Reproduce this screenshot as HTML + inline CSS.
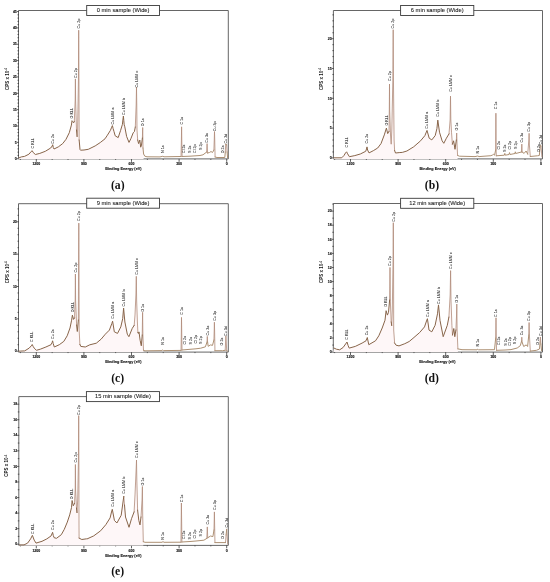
<!DOCTYPE html>
<html><head><meta charset="utf-8"><style>
html,body{margin:0;padding:0;background:#fff;}
svg{display:block;will-change:transform;}
</style></head><body>
<svg width="550" height="582" viewBox="0 0 550 582" font-family='"Liberation Sans", sans-serif'>
<rect width="550" height="582" fill="#fff"/>
<path d="M18.5,10.5H228.3V158.9H18.5Z" fill="none" stroke="#555" stroke-width="0.9"/>
<text x="16.8" y="159.9" font-size="3.5" font-weight="bold" text-anchor="end" fill="#111" stroke="#111" stroke-width="0.12">0</text>
<text x="16.8" y="143.55" font-size="3.5" font-weight="bold" text-anchor="end" fill="#111" stroke="#111" stroke-width="0.12">5</text>
<text x="16.8" y="127.2" font-size="3.5" font-weight="bold" text-anchor="end" fill="#111" stroke="#111" stroke-width="0.12">10</text>
<text x="16.8" y="110.85" font-size="3.5" font-weight="bold" text-anchor="end" fill="#111" stroke="#111" stroke-width="0.12">15</text>
<text x="16.8" y="94.5" font-size="3.5" font-weight="bold" text-anchor="end" fill="#111" stroke="#111" stroke-width="0.12">20</text>
<text x="16.8" y="78.15" font-size="3.5" font-weight="bold" text-anchor="end" fill="#111" stroke="#111" stroke-width="0.12">25</text>
<text x="16.8" y="61.8" font-size="3.5" font-weight="bold" text-anchor="end" fill="#111" stroke="#111" stroke-width="0.12">30</text>
<text x="16.8" y="45.45" font-size="3.5" font-weight="bold" text-anchor="end" fill="#111" stroke="#111" stroke-width="0.12">35</text>
<text x="16.8" y="29.1" font-size="3.5" font-weight="bold" text-anchor="end" fill="#111" stroke="#111" stroke-width="0.12">40</text>
<text x="16.8" y="12.75" font-size="3.5" font-weight="bold" text-anchor="end" fill="#111" stroke="#111" stroke-width="0.12">45</text>
<text x="36.3" y="165.2" font-size="3.5" font-weight="bold" text-anchor="middle" fill="#111" stroke="#111" stroke-width="0.12">1200</text>
<text x="83.9" y="165.2" font-size="3.5" font-weight="bold" text-anchor="middle" fill="#111" stroke="#111" stroke-width="0.12">900</text>
<text x="131.5" y="165.2" font-size="3.5" font-weight="bold" text-anchor="middle" fill="#111" stroke="#111" stroke-width="0.12">600</text>
<text x="179.1" y="165.2" font-size="3.5" font-weight="bold" text-anchor="middle" fill="#111" stroke="#111" stroke-width="0.12">300</text>
<text x="226.7" y="165.2" font-size="3.5" font-weight="bold" text-anchor="middle" fill="#111" stroke="#111" stroke-width="0.12">0</text>
<path d="M18.9,158.7h-2.1M18.9,142.35h-2.1M18.9,126h-2.1M18.9,109.65h-2.1M18.9,93.3h-2.1M18.9,76.95h-2.1M18.9,60.6h-2.1M18.9,44.25h-2.1M18.9,27.9h-2.1M18.9,11.55h-2.1M19,155.43h-1.5M19,152.16h-1.5M19,148.89h-1.5M19,145.62h-1.5M19,139.08h-1.5M19,135.81h-1.5M19,132.54h-1.5M19,129.27h-1.5M19,122.73h-1.5M19,119.46h-1.5M19,116.19h-1.5M19,112.92h-1.5M19,106.38h-1.5M19,103.11h-1.5M19,99.84h-1.5M19,96.57h-1.5M19,90.03h-1.5M19,86.76h-1.5M19,83.49h-1.5M19,80.22h-1.5M19,73.68h-1.5M19,70.41h-1.5M19,67.14h-1.5M19,63.87h-1.5M19,57.33h-1.5M19,54.06h-1.5M19,50.79h-1.5M19,47.52h-1.5M19,40.98h-1.5M19,37.71h-1.5M19,34.44h-1.5M19,31.17h-1.5M19,24.63h-1.5M19,21.36h-1.5M19,18.09h-1.5M19,14.82h-1.5M36.3,158.9v2.9M83.9,158.9v2.9M131.5,158.9v2.9M179.1,158.9v2.9M226.7,158.9v2.9M20.43,158.9v1.0M52.17,158.9v1.0M68.03,158.9v1.0M99.77,158.9v1.0M115.63,158.9v1.0M147.37,158.9v1.0M163.23,158.9v1.0M194.97,158.9v1.0M210.83,158.9v1.0" stroke="#3a3a3a" stroke-width="0.8" fill="none"/>
<text transform="translate(8.8,79) rotate(-90)" font-size="4.5" font-weight="bold" text-anchor="middle" fill="#111">CPS x 10<tspan font-size="3.0" dy="-1.8">-4</tspan></text>
<text x="123.4" y="170" font-size="3.8" font-weight="bold" text-anchor="middle" fill="#111" stroke="#111" stroke-width="0.1">Binding Energy (eV)</text>
<polygon points="18.5,158.9 19,157.9 21.3,156.9 24.5,156.4 28.9,154.2 31.2,151.5 32.2,150.7 33.2,152.5 35.4,154.5 39.8,153.4 45.3,151.3 50.7,148 52.2,146 52.7,144.7 53.3,147.5 54,149 58.3,146.9 62.7,143.6 66,139.3 69.3,132.7 71.4,125.1 72,120.7 72.7,121.5 73.6,122.9 74.3,121.5 75.2,100 75.4,78.9 75.6,100 76.5,130 77.1,136.5 77.6,130 78.45,80 78.7,30.2 78.95,80 79.15,140 80,149.5 80.5,150.2 84,150 88.3,149.3 95.2,145.9 100.3,142.5 105,138.8 107.4,135.2 110.4,130.4 111.7,127.2 112.4,125.6 113.1,128.5 114,131.6 115.2,135.8 118.2,137.6 120.6,130.4 122.4,124.4 123,119 123.4,116 123.8,120.5 124.2,124.8 124.8,126.8 126.6,136.4 129,142.4 130.8,138.8 133.2,132.8 134.4,131.6 135.3,127 136.17,105 136.5,87.2 136.78,105 137,130 137.7,140 138.6,143.6 139.8,140 140.7,147.2 141.5,145 142.4,138 142.7,127.5 143,148 143.6,154 143.6,158.9" fill="#fef7f8" stroke="none"/>
<path d="M74.3,121.5 75.2,100 75.4,78.9 75.6,100 76.5,130M77.1,136.5 77.6,130 78.45,80 78.7,30.2 78.95,80 79.15,140M135.3,127 136.17,105 136.5,87.2 136.78,105 137,130 137.7,140M142.4,138 142.7,127.5 143,148M181.05,156.5 181.4,140 181.6,126.8 181.85,145 182.1,156.5M206.7,152 206.95,146 207.1,143.6 207.3,148 207.55,153M213.9,150 214.26,140 214.5,131.5 214.74,140 215.1,157M225.3,152 225.7,144.5M226.6,144.8 227.1,152" fill="none" stroke="#b08a78" stroke-width="0.8" stroke-linejoin="round" stroke-linecap="round"/>
<path d="M19,157.9 21.3,156.9 24.5,156.4 28.9,154.2 31.2,151.5 32.2,150.7 33.2,152.5 35.4,154.5 39.8,153.4 45.3,151.3 50.7,148 52.2,146 52.7,144.7 53.3,147.5 54,149 58.3,146.9 62.7,143.6 66,139.3 69.3,132.7 71.4,125.1 72,120.7 72.7,121.5 73.6,122.9 74.3,121.5M76.5,130 77.1,136.5M79.15,140 80,149.5 80.5,150.2 84,150 88.3,149.3 95.2,145.9 100.3,142.5 105,138.8 107.4,135.2 110.4,130.4 111.7,127.2 112.4,125.6 113.1,128.5 114,131.6 115.2,135.8 118.2,137.6 120.6,130.4 122.4,124.4 123,119 123.4,116 123.8,120.5 124.2,124.8 124.8,126.8 126.6,136.4 129,142.4 130.8,138.8 133.2,132.8 134.4,131.6 135.3,127M137.7,140 138.6,143.6 139.8,140 140.7,147.2 141.5,145 142.4,138" fill="none" stroke="#88654a" stroke-width="1.0" stroke-linejoin="round" stroke-linecap="round"/>
<path d="M143,148 143.6,154 144.8,156.2 147,156.8 160,156.9 162.8,156.3 164,156.8 181.05,156.5M182.1,156.5 190,156.2 200,155.5 203,154.8 206.7,152M207.55,153 209.5,152.5 211,151.5 212.5,152.5 213.9,150M215.1,157 217,157.5 224.8,157.5 225.3,152M225.7,144.5 226.6,144.8M227.1,152 227.6,157.8" fill="none" stroke="#ad9073" stroke-width="1.0" stroke-linejoin="round" stroke-linecap="round"/>
<text transform="translate(33.6,148.5) rotate(-90)" font-size="3.7" fill="#333" stroke="#333" stroke-width="0.08">C KLL</text>
<text transform="translate(54,143.8) rotate(-90)" font-size="3.7" fill="#333" stroke="#333" stroke-width="0.08">Cu 2s</text>
<text transform="translate(73.1,118.5) rotate(-90)" font-size="3.7" fill="#333" stroke="#333" stroke-width="0.08">O KLL</text>
<text transform="translate(76.7,78) rotate(-90)" font-size="3.7" fill="#333" stroke="#333" stroke-width="0.08">Cu 2p</text>
<text transform="translate(80,28.5) rotate(-90)" font-size="3.7" fill="#333" stroke="#333" stroke-width="0.08">Cu 2p</text>
<text transform="translate(113.6,124.5) rotate(-90)" font-size="3.7" fill="#333" stroke="#333" stroke-width="0.08">Cu LMM a</text>
<text transform="translate(124.8,115) rotate(-90)" font-size="3.7" fill="#333" stroke="#333" stroke-width="0.08">Cu LMM b</text>
<text transform="translate(137.8,87.5) rotate(-90)" font-size="3.7" fill="#333" stroke="#333" stroke-width="0.08">Cu LMM c</text>
<text transform="translate(143.9,126.2) rotate(-90)" font-size="3.7" fill="#333" stroke="#333" stroke-width="0.08">O 1s</text>
<text transform="translate(164,153) rotate(-90)" font-size="3.7" fill="#333" stroke="#333" stroke-width="0.08">N 1s</text>
<text transform="translate(182.8,124.5) rotate(-90)" font-size="3.7" fill="#333" stroke="#333" stroke-width="0.08">C 1s</text>
<text transform="translate(185.2,153) rotate(-90)" font-size="3.7" fill="#333" stroke="#333" stroke-width="0.08">Cl 2s</text>
<text transform="translate(191,153) rotate(-90)" font-size="3.7" fill="#333" stroke="#333" stroke-width="0.08">S 2s</text>
<text transform="translate(196,153) rotate(-90)" font-size="3.7" fill="#333" stroke="#333" stroke-width="0.08">Cl 2p</text>
<text transform="translate(201.5,150) rotate(-90)" font-size="3.7" fill="#333" stroke="#333" stroke-width="0.08">S 2p</text>
<text transform="translate(208.3,142.7) rotate(-90)" font-size="3.7" fill="#333" stroke="#333" stroke-width="0.08">Cu 3s</text>
<text transform="translate(215.8,131.2) rotate(-90)" font-size="3.7" fill="#333" stroke="#333" stroke-width="0.08">Cu 3p</text>
<text transform="translate(223.8,153.3) rotate(-90)" font-size="3.7" fill="#333" stroke="#333" stroke-width="0.08">O 2s</text>
<text transform="translate(227.4,143.6) rotate(-90)" font-size="3.7" fill="#333" stroke="#333" stroke-width="0.08">Cu 3d</text>
<rect x="86.7" y="5.5" width="72.8" height="10" fill="#fff" stroke="#3a3a3a" stroke-width="0.9"/>
<text x="123.1" y="12.1" font-size="5.75" text-anchor="middle" fill="#1a1a1a" stroke="#1a1a1a" stroke-width="0.08">0 min sample (Wide)</text>
<text transform="translate(117.7,188.5) scale(0.9,1)" font-family='"Liberation Serif", serif' font-size="13" font-weight="bold" text-anchor="middle" fill="#111">(a)</text>
<path d="M333.4,10.5H542.5V158.9H333.4Z" fill="none" stroke="#555" stroke-width="0.9"/>
<text x="331.7" y="159.1" font-size="3.5" font-weight="bold" text-anchor="end" fill="#111" stroke="#111" stroke-width="0.12">0</text>
<text x="331.7" y="129.3" font-size="3.5" font-weight="bold" text-anchor="end" fill="#111" stroke="#111" stroke-width="0.12">5</text>
<text x="331.7" y="99.5" font-size="3.5" font-weight="bold" text-anchor="end" fill="#111" stroke="#111" stroke-width="0.12">10</text>
<text x="331.7" y="69.7" font-size="3.5" font-weight="bold" text-anchor="end" fill="#111" stroke="#111" stroke-width="0.12">15</text>
<text x="331.7" y="39.9" font-size="3.5" font-weight="bold" text-anchor="end" fill="#111" stroke="#111" stroke-width="0.12">20</text>
<text x="350.5" y="165.2" font-size="3.5" font-weight="bold" text-anchor="middle" fill="#111" stroke="#111" stroke-width="0.12">1200</text>
<text x="398.1" y="165.2" font-size="3.5" font-weight="bold" text-anchor="middle" fill="#111" stroke="#111" stroke-width="0.12">900</text>
<text x="445.7" y="165.2" font-size="3.5" font-weight="bold" text-anchor="middle" fill="#111" stroke="#111" stroke-width="0.12">600</text>
<text x="493.3" y="165.2" font-size="3.5" font-weight="bold" text-anchor="middle" fill="#111" stroke="#111" stroke-width="0.12">300</text>
<text x="540.9" y="165.2" font-size="3.5" font-weight="bold" text-anchor="middle" fill="#111" stroke="#111" stroke-width="0.12">0</text>
<path d="M333.8,157.9h-2.1M333.8,128.1h-2.1M333.8,98.3h-2.1M333.8,68.5h-2.1M333.8,38.7h-2.1M333.9,151.94h-1.5M333.9,145.98h-1.5M333.9,140.02h-1.5M333.9,134.06h-1.5M333.9,122.14h-1.5M333.9,116.18h-1.5M333.9,110.22h-1.5M333.9,104.26h-1.5M333.9,92.34h-1.5M333.9,86.38h-1.5M333.9,80.42h-1.5M333.9,74.46h-1.5M333.9,62.54h-1.5M333.9,56.58h-1.5M333.9,50.62h-1.5M333.9,44.66h-1.5M333.9,32.74h-1.5M333.9,26.78h-1.5M333.9,20.82h-1.5M333.9,14.86h-1.5M350.5,158.9v2.9M398.1,158.9v2.9M445.7,158.9v2.9M493.3,158.9v2.9M540.9,158.9v2.9M334.63,158.9v1.0M366.37,158.9v1.0M382.23,158.9v1.0M413.97,158.9v1.0M429.83,158.9v1.0M461.57,158.9v1.0M477.43,158.9v1.0M509.17,158.9v1.0M525.03,158.9v1.0" stroke="#3a3a3a" stroke-width="0.8" fill="none"/>
<text transform="translate(322.8,79) rotate(-90)" font-size="4.5" font-weight="bold" text-anchor="middle" fill="#111">CPS x 10<tspan font-size="3.0" dy="-1.8">-4</tspan></text>
<text x="437.7" y="170" font-size="3.8" font-weight="bold" text-anchor="middle" fill="#111" stroke="#111" stroke-width="0.1">Binding Energy (eV)</text>
<polygon points="333.4,158.9 334.1,157.8 341.7,157.8 343.9,155.6 345.6,152.8 346.6,151.8 347.6,153.8 349.4,156.7 354.8,155.6 360.3,154 365.7,151.3 366.5,149 367,146.9 367.6,150 369,152.9 373.3,150.7 377.7,148 381,143.6 384.3,134.9 386.4,128.1 387.7,133.6 389.05,131.3 389.3,110 389.5,84 389.7,110 390.5,135 391.2,144.2 391.8,130 392.85,80 393.2,29.7 393.45,80 394.1,140 394.6,150.5 395.5,153 399.2,152.6 402.3,152.4 406.9,151 413.7,146.8 420.6,140.8 424.9,135.6 427,130.4 429.2,138.2 431.8,139.9 435.2,135.6 436.9,128.7 437.8,120.1 439.5,132.2 442.1,140.8 443.8,143.3 446.4,138.2 449,133.9 450.12,120 450.5,96.1 450.83,120 451.5,132.2 452.4,144.2 453.6,140.8 455,149.3 456.35,140 456.7,133 457.05,145 457.6,155.4 457.6,158.9" fill="#fef7f8" stroke="none"/>
<path d="M389.05,131.3 389.3,110 389.5,84 389.7,110 390.5,135 391.2,144.2 391.8,130 392.85,80 393.2,29.7 393.45,80 394.1,140 394.6,150.5M449,133.9 450.12,120 450.5,96.1 450.83,120 451.5,132.2 452.4,144.2M456.35,140 456.7,133 457.05,145 457.6,155.4M495.67,150 495.81,125 495.9,113.2 495.99,125 496.12,150 496.31,155.8M521.44,152 521.8,144.1 522.16,152M527.7,154.1 528.86,140 529.1,133.3 529.4,145 530.3,156.5M541,145.8 541.5,152 541.9,157" fill="none" stroke="#b08a78" stroke-width="0.8" stroke-linejoin="round" stroke-linecap="round"/>
<path d="M334.1,157.8 341.7,157.8 343.9,155.6 345.6,152.8 346.6,151.8 347.6,153.8 349.4,156.7 354.8,155.6 360.3,154 365.7,151.3 366.5,149 367,146.9 367.6,150 369,152.9 373.3,150.7 377.7,148 381,143.6 384.3,134.9 386.4,128.1 387.7,133.6 389.05,131.3M394.6,150.5 395.5,153 399.2,152.6 402.3,152.4 406.9,151 413.7,146.8 420.6,140.8 424.9,135.6 427,130.4 429.2,138.2 431.8,139.9 435.2,135.6 436.9,128.7 437.8,120.1 439.5,132.2 442.1,140.8 443.8,143.3 446.4,138.2 449,133.9M452.4,144.2 453.6,140.8 455,149.3 456.35,140" fill="none" stroke="#88654a" stroke-width="1.0" stroke-linejoin="round" stroke-linecap="round"/>
<path d="M457.6,155.4 459.3,156.2 475,156.6 477.8,156 479,156.6 490.9,155.7 492.5,155 493.5,154.2 494.5,155.3 495.67,150M496.31,155.8 504.3,155.2 504.8,153.4 505.3,155.2 509,154.5 509.5,152.6 510,154.5 515,153.5 515.3,151.8 515.7,153.5 521.44,152M522.16,152 524.1,153.4 526.1,151 527.7,154.1M530.3,156.5 537.3,155.8 539.3,155.5 539.9,150 540.3,145.3 541,145.8" fill="none" stroke="#ad9073" stroke-width="1.0" stroke-linejoin="round" stroke-linecap="round"/>
<text transform="translate(347.8,147.5) rotate(-90)" font-size="3.7" fill="#333" stroke="#333" stroke-width="0.08">C KLL</text>
<text transform="translate(368.2,143.5) rotate(-90)" font-size="3.7" fill="#333" stroke="#333" stroke-width="0.08">Cu 2s</text>
<text transform="translate(387.7,125.6) rotate(-90)" font-size="3.7" fill="#333" stroke="#333" stroke-width="0.08">O KLL</text>
<text transform="translate(390.8,81) rotate(-90)" font-size="3.7" fill="#333" stroke="#333" stroke-width="0.08">Cu 2p</text>
<text transform="translate(394.4,28.5) rotate(-90)" font-size="3.7" fill="#333" stroke="#333" stroke-width="0.08">Cu 2p</text>
<text transform="translate(428.2,128.7) rotate(-90)" font-size="3.7" fill="#333" stroke="#333" stroke-width="0.08">Cu LMM a</text>
<text transform="translate(439,116.7) rotate(-90)" font-size="3.7" fill="#333" stroke="#333" stroke-width="0.08">Cu LMM b</text>
<text transform="translate(451.7,91.8) rotate(-90)" font-size="3.7" fill="#333" stroke="#333" stroke-width="0.08">Cu LMM c</text>
<text transform="translate(457.9,130.4) rotate(-90)" font-size="3.7" fill="#333" stroke="#333" stroke-width="0.08">O 1s</text>
<text transform="translate(479,153.4) rotate(-90)" font-size="3.7" fill="#333" stroke="#333" stroke-width="0.08">N 1s</text>
<text transform="translate(497.1,109.3) rotate(-90)" font-size="3.7" fill="#333" stroke="#333" stroke-width="0.08">C 1s</text>
<text transform="translate(499.8,149.5) rotate(-90)" font-size="3.7" fill="#333" stroke="#333" stroke-width="0.08">Cl 2s</text>
<text transform="translate(506.3,152) rotate(-90)" font-size="3.7" fill="#333" stroke="#333" stroke-width="0.08">S 2s</text>
<text transform="translate(510.7,149.5) rotate(-90)" font-size="3.7" fill="#333" stroke="#333" stroke-width="0.08">Cl 2p</text>
<text transform="translate(516.5,149) rotate(-90)" font-size="3.7" fill="#333" stroke="#333" stroke-width="0.08">S 2p</text>
<text transform="translate(523,142.5) rotate(-90)" font-size="3.7" fill="#333" stroke="#333" stroke-width="0.08">Cu 3s</text>
<text transform="translate(530.3,131.7) rotate(-90)" font-size="3.7" fill="#333" stroke="#333" stroke-width="0.08">Cu 3p</text>
<text transform="translate(540,152) rotate(-90)" font-size="3.7" fill="#333" stroke="#333" stroke-width="0.08">O 2s</text>
<text transform="translate(541.8,144.5) rotate(-90)" font-size="3.7" fill="#333" stroke="#333" stroke-width="0.08">Cu 3d</text>
<rect x="400.6" y="5.5" width="73.2" height="10" fill="#fff" stroke="#3a3a3a" stroke-width="0.9"/>
<text x="437.2" y="12.1" font-size="5.75" text-anchor="middle" fill="#1a1a1a" stroke="#1a1a1a" stroke-width="0.08">6 min sample (Wide)</text>
<text transform="translate(432,188.5) scale(0.9,1)" font-family='"Liberation Serif", serif' font-size="13" font-weight="bold" text-anchor="middle" fill="#111">(b)</text>
<path d="M18.5,203.7H228.3V352.1H18.5Z" fill="none" stroke="#555" stroke-width="0.9"/>
<text x="16.8" y="352.4" font-size="3.5" font-weight="bold" text-anchor="end" fill="#111" stroke="#111" stroke-width="0.12">0</text>
<text x="16.8" y="320.05" font-size="3.5" font-weight="bold" text-anchor="end" fill="#111" stroke="#111" stroke-width="0.12">5</text>
<text x="16.8" y="287.7" font-size="3.5" font-weight="bold" text-anchor="end" fill="#111" stroke="#111" stroke-width="0.12">10</text>
<text x="16.8" y="255.35" font-size="3.5" font-weight="bold" text-anchor="end" fill="#111" stroke="#111" stroke-width="0.12">15</text>
<text x="16.8" y="223" font-size="3.5" font-weight="bold" text-anchor="end" fill="#111" stroke="#111" stroke-width="0.12">20</text>
<text x="36.3" y="358.4" font-size="3.5" font-weight="bold" text-anchor="middle" fill="#111" stroke="#111" stroke-width="0.12">1200</text>
<text x="83.9" y="358.4" font-size="3.5" font-weight="bold" text-anchor="middle" fill="#111" stroke="#111" stroke-width="0.12">900</text>
<text x="131.5" y="358.4" font-size="3.5" font-weight="bold" text-anchor="middle" fill="#111" stroke="#111" stroke-width="0.12">600</text>
<text x="179.1" y="358.4" font-size="3.5" font-weight="bold" text-anchor="middle" fill="#111" stroke="#111" stroke-width="0.12">300</text>
<text x="226.7" y="358.4" font-size="3.5" font-weight="bold" text-anchor="middle" fill="#111" stroke="#111" stroke-width="0.12">0</text>
<path d="M18.9,351.2h-2.1M18.9,318.85h-2.1M18.9,286.5h-2.1M18.9,254.15h-2.1M18.9,221.8h-2.1M19,344.73h-1.5M19,338.26h-1.5M19,331.79h-1.5M19,325.32h-1.5M19,312.38h-1.5M19,305.91h-1.5M19,299.44h-1.5M19,292.97h-1.5M19,280.03h-1.5M19,273.56h-1.5M19,267.09h-1.5M19,260.62h-1.5M19,247.68h-1.5M19,241.21h-1.5M19,234.74h-1.5M19,228.27h-1.5M19,215.33h-1.5M19,208.86h-1.5M36.3,352.1v2.9M83.9,352.1v2.9M131.5,352.1v2.9M179.1,352.1v2.9M226.7,352.1v2.9M20.43,352.1v1.0M52.17,352.1v1.0M68.03,352.1v1.0M99.77,352.1v1.0M115.63,352.1v1.0M147.37,352.1v1.0M163.23,352.1v1.0M194.97,352.1v1.0M210.83,352.1v1.0" stroke="#3a3a3a" stroke-width="0.8" fill="none"/>
<text transform="translate(8.5,272.3) rotate(-90)" font-size="4.5" font-weight="bold" text-anchor="middle" fill="#111">CPS x 10<tspan font-size="3.0" dy="-1.8">-4</tspan></text>
<text x="123.4" y="363" font-size="3.8" font-weight="bold" text-anchor="middle" fill="#111" stroke="#111" stroke-width="0.1">Binding Energy (eV)</text>
<polygon points="18.5,352.1 19,351.2 20.2,351.1 24.7,350.9 29.2,348.1 31.3,345.8 32.2,344.5 33.2,346.5 34.2,348.1 36.4,350.3 40.3,349.2 45.9,347 51,344.7 52.1,342.5 52.6,340.8 53.2,343.5 54.3,347 59.3,344.7 63.8,341.4 67.2,335.8 70,328 71.6,320.2 72.4,315.1 73.5,319.4 74.5,318 75.2,300 75.4,274 75.6,300 76.6,325 77.3,331.5 78.35,320 78.55,270 78.8,223.1 79,270 79.15,330 79.9,344.4 80.8,346.4 85.3,347 89.8,344.8 96.3,343.2 101.2,339.1 105.3,334.2 109.4,330.1 111.8,323.6 112.6,321.2 113.4,326 114.3,331.8 117.5,333.4 120.8,326.9 122.7,318.7 123.6,308.1 124.3,316 124.9,322 127.3,334.2 128.9,336.7 132.2,328.5 134.2,325.3 135,315 135.91,295 136.3,276.3 136.63,300 137.4,322 137.9,332.5 138.4,333.5 139,331.9 140.1,340.2 141.3,345.8 142.24,335 142.6,312.3 142.9,335 143.5,350.3 143.5,352.1" fill="#fef7f8" stroke="none"/>
<path d="M74.5,318 75.2,300 75.4,274 75.6,300 76.6,325M78.35,320 78.55,270 78.8,223.1 79,270 79.15,330 79.9,344.4M134.2,325.3 135,315 135.91,295 136.3,276.3 136.63,300 137.4,322 137.9,332.5M142.24,335 142.6,312.3 142.9,335 143.5,350.3M181.05,350.4 181.3,335 181.5,317.4 181.75,335 182,350M207.03,342 207.3,336.4 207.58,342M213.92,340 214.22,330 214.4,322.2 214.64,332 214.94,350.7M225.2,350.3 225.6,342 225.9,336 226.3,343 226.7,350.8" fill="none" stroke="#b08a78" stroke-width="0.8" stroke-linejoin="round" stroke-linecap="round"/>
<path d="M19,351.2 20.2,351.1 24.7,350.9 29.2,348.1 31.3,345.8 32.2,344.5 33.2,346.5 34.2,348.1 36.4,350.3 40.3,349.2 45.9,347 51,344.7 52.1,342.5 52.6,340.8 53.2,343.5 54.3,347 59.3,344.7 63.8,341.4 67.2,335.8 70,328 71.6,320.2 72.4,315.1 73.5,319.4 74.5,318M76.6,325 77.3,331.5 78.35,320M79.9,344.4 80.8,346.4 85.3,347 89.8,344.8 96.3,343.2 101.2,339.1 105.3,334.2 109.4,330.1 111.8,323.6 112.6,321.2 113.4,326 114.3,331.8 117.5,333.4 120.8,326.9 122.7,318.7 123.6,308.1 124.3,316 124.9,322 127.3,334.2 128.9,336.7 132.2,328.5 134.2,325.3M137.9,332.5 138.4,333.5 139,331.9 140.1,340.2 141.3,345.8 142.24,335" fill="none" stroke="#88654a" stroke-width="1.0" stroke-linejoin="round" stroke-linecap="round"/>
<path d="M143.5,350.3 145,350.8 162,350.6 162.8,349.9 163.6,350.6 181.05,350.4M182,350 190,349.3 196,348.8 200.7,348.2 205.4,346.8 207.03,342M207.58,342 208.2,346.3 210.6,344.9 212.5,345.4 213.92,340M214.94,350.7 222.4,350.7 225.2,350.3M226.7,350.8 227.6,351.2" fill="none" stroke="#ad9073" stroke-width="1.0" stroke-linejoin="round" stroke-linecap="round"/>
<text transform="translate(33.4,342) rotate(-90)" font-size="3.7" fill="#333" stroke="#333" stroke-width="0.08">C KLL</text>
<text transform="translate(53.8,339) rotate(-90)" font-size="3.7" fill="#333" stroke="#333" stroke-width="0.08">Cu 2s</text>
<text transform="translate(73.5,312.3) rotate(-90)" font-size="3.7" fill="#333" stroke="#333" stroke-width="0.08">O KLL</text>
<text transform="translate(76.6,272.6) rotate(-90)" font-size="3.7" fill="#333" stroke="#333" stroke-width="0.08">Cu 2p</text>
<text transform="translate(80,221) rotate(-90)" font-size="3.7" fill="#333" stroke="#333" stroke-width="0.08">Cu 2p</text>
<text transform="translate(113.8,318.7) rotate(-90)" font-size="3.7" fill="#333" stroke="#333" stroke-width="0.08">Cu LMM a</text>
<text transform="translate(124.8,306.5) rotate(-90)" font-size="3.7" fill="#333" stroke="#333" stroke-width="0.08">Cu LMM b</text>
<text transform="translate(137.5,274.7) rotate(-90)" font-size="3.7" fill="#333" stroke="#333" stroke-width="0.08">Cu LMM c</text>
<text transform="translate(143.8,311.8) rotate(-90)" font-size="3.7" fill="#333" stroke="#333" stroke-width="0.08">O 1s</text>
<text transform="translate(164,344.7) rotate(-90)" font-size="3.7" fill="#333" stroke="#333" stroke-width="0.08">N 1s</text>
<text transform="translate(182.7,314.8) rotate(-90)" font-size="3.7" fill="#333" stroke="#333" stroke-width="0.08">C 1s</text>
<text transform="translate(185.8,344.4) rotate(-90)" font-size="3.7" fill="#333" stroke="#333" stroke-width="0.08">Cl 2s</text>
<text transform="translate(192.4,344.4) rotate(-90)" font-size="3.7" fill="#333" stroke="#333" stroke-width="0.08">S 2s</text>
<text transform="translate(196.7,343.5) rotate(-90)" font-size="3.7" fill="#333" stroke="#333" stroke-width="0.08">Cl 2p</text>
<text transform="translate(201.9,343.9) rotate(-90)" font-size="3.7" fill="#333" stroke="#333" stroke-width="0.08">S 2p</text>
<text transform="translate(208.5,335.4) rotate(-90)" font-size="3.7" fill="#333" stroke="#333" stroke-width="0.08">Cu 3s</text>
<text transform="translate(215.6,320.8) rotate(-90)" font-size="3.7" fill="#333" stroke="#333" stroke-width="0.08">Cu 3p</text>
<text transform="translate(223.2,345.4) rotate(-90)" font-size="3.7" fill="#333" stroke="#333" stroke-width="0.08">O 2s</text>
<text transform="translate(227.2,336) rotate(-90)" font-size="3.7" fill="#333" stroke="#333" stroke-width="0.08">Cu 3d</text>
<rect x="86.7" y="198.2" width="72.8" height="10" fill="#fff" stroke="#3a3a3a" stroke-width="0.9"/>
<text x="123.1" y="204.8" font-size="5.75" text-anchor="middle" fill="#1a1a1a" stroke="#1a1a1a" stroke-width="0.08">9 min sample (Wide)</text>
<text transform="translate(117.7,382.2) scale(0.9,1)" font-family='"Liberation Serif", serif' font-size="13" font-weight="bold" text-anchor="middle" fill="#111">(c)</text>
<path d="M333.3,203.5H542.5V352.1H333.3Z" fill="none" stroke="#555" stroke-width="0.9"/>
<text x="331.6" y="353.3" font-size="3.5" font-weight="bold" text-anchor="end" fill="#111" stroke="#111" stroke-width="0.12">0</text>
<text x="331.6" y="339.2" font-size="3.5" font-weight="bold" text-anchor="end" fill="#111" stroke="#111" stroke-width="0.12">2</text>
<text x="331.6" y="325.1" font-size="3.5" font-weight="bold" text-anchor="end" fill="#111" stroke="#111" stroke-width="0.12">4</text>
<text x="331.6" y="311" font-size="3.5" font-weight="bold" text-anchor="end" fill="#111" stroke="#111" stroke-width="0.12">6</text>
<text x="331.6" y="296.9" font-size="3.5" font-weight="bold" text-anchor="end" fill="#111" stroke="#111" stroke-width="0.12">8</text>
<text x="331.6" y="282.8" font-size="3.5" font-weight="bold" text-anchor="end" fill="#111" stroke="#111" stroke-width="0.12">10</text>
<text x="331.6" y="268.7" font-size="3.5" font-weight="bold" text-anchor="end" fill="#111" stroke="#111" stroke-width="0.12">12</text>
<text x="331.6" y="254.6" font-size="3.5" font-weight="bold" text-anchor="end" fill="#111" stroke="#111" stroke-width="0.12">14</text>
<text x="331.6" y="240.5" font-size="3.5" font-weight="bold" text-anchor="end" fill="#111" stroke="#111" stroke-width="0.12">16</text>
<text x="331.6" y="226.4" font-size="3.5" font-weight="bold" text-anchor="end" fill="#111" stroke="#111" stroke-width="0.12">18</text>
<text x="331.6" y="212.3" font-size="3.5" font-weight="bold" text-anchor="end" fill="#111" stroke="#111" stroke-width="0.12">20</text>
<text x="350.5" y="358.4" font-size="3.5" font-weight="bold" text-anchor="middle" fill="#111" stroke="#111" stroke-width="0.12">1200</text>
<text x="398.1" y="358.4" font-size="3.5" font-weight="bold" text-anchor="middle" fill="#111" stroke="#111" stroke-width="0.12">900</text>
<text x="445.7" y="358.4" font-size="3.5" font-weight="bold" text-anchor="middle" fill="#111" stroke="#111" stroke-width="0.12">600</text>
<text x="493.3" y="358.4" font-size="3.5" font-weight="bold" text-anchor="middle" fill="#111" stroke="#111" stroke-width="0.12">300</text>
<text x="540.9" y="358.4" font-size="3.5" font-weight="bold" text-anchor="middle" fill="#111" stroke="#111" stroke-width="0.12">0</text>
<path d="M333.7,352.1h-2.1M333.7,338h-2.1M333.7,323.9h-2.1M333.7,309.8h-2.1M333.7,295.7h-2.1M333.7,281.6h-2.1M333.7,267.5h-2.1M333.7,253.4h-2.1M333.7,239.3h-2.1M333.7,225.2h-2.1M333.7,211.1h-2.1M333.8,345.05h-1.5M333.8,330.95h-1.5M333.8,316.85h-1.5M333.8,302.75h-1.5M333.8,288.65h-1.5M333.8,274.55h-1.5M333.8,260.45h-1.5M333.8,246.35h-1.5M333.8,232.25h-1.5M333.8,218.15h-1.5M333.8,204.05h-1.5M350.5,352.1v2.9M398.1,352.1v2.9M445.7,352.1v2.9M493.3,352.1v2.9M540.9,352.1v2.9M334.63,352.1v1.0M366.37,352.1v1.0M382.23,352.1v1.0M413.97,352.1v1.0M429.83,352.1v1.0M461.57,352.1v1.0M477.43,352.1v1.0M509.17,352.1v1.0M525.03,352.1v1.0" stroke="#3a3a3a" stroke-width="0.8" fill="none"/>
<text transform="translate(323.3,272.1) rotate(-90)" font-size="4.5" font-weight="bold" text-anchor="middle" fill="#111">CPS x 10<tspan font-size="3.0" dy="-1.8">-4</tspan></text>
<text x="437.5" y="362.9" font-size="3.8" font-weight="bold" text-anchor="middle" fill="#111" stroke="#111" stroke-width="0.1">Binding Energy (eV)</text>
<polygon points="333.3,352.1 334.1,348.1 336.4,349.2 339.7,349.8 343.1,347.5 345.6,344 347,342 348.1,345.5 349.2,348.1 355.3,346.4 362.1,343.1 366,340.8 366.8,338.5 367.3,337.5 368,341 368.8,344.7 375.5,340.8 378.8,335.8 382.2,328 385,320.2 386.1,310.7 387.4,315.1 388.5,312.3 389.65,300 390,267.4 390.3,300 391.2,322 391.7,325.5 392.3,310 393.05,260 393.3,222.7 393.55,260 393.7,330 394.6,343 396.1,345.2 399,345.9 404.8,343.7 409.2,341.5 413,338.3 419.6,332.6 424.5,326.9 426.5,321 427.4,318.7 428.2,324 429,330.1 431.8,331.8 435.1,325.3 437.5,313.8 438.5,304.9 439.3,313 440,320.4 443.2,336.7 447.3,325.3 448.9,317.1 450.16,295 450.6,270.6 450.99,300 451.9,325.3 452.5,335 453.8,328.5 454.8,336.7 455.9,330 456.56,315 456.8,304 457.1,330 457.9,348.9 457.9,352.1" fill="#fef7f8" stroke="none"/>
<path d="M389.65,300 390,267.4 390.3,300 391.2,322M391.7,325.5 392.3,310 393.05,260 393.3,222.7 393.55,260 393.7,330 394.6,343M448.9,317.1 450.16,295 450.6,270.6 450.99,300 451.9,325.3 452.5,335M455.9,330 456.56,315 456.8,304 457.1,330 457.9,348.9M495.69,338 496,317.8 496.27,338 496.54,350.3M521.6,341 521.8,337.2 522.04,342M528.8,335 529.1,322.5 529.4,335 530.3,351.1M540.1,342 540.4,337 540.9,344" fill="none" stroke="#b08a78" stroke-width="0.8" stroke-linejoin="round" stroke-linecap="round"/>
<path d="M334.1,348.1 336.4,349.2 339.7,349.8 343.1,347.5 345.6,344 347,342 348.1,345.5 349.2,348.1 355.3,346.4 362.1,343.1 366,340.8 366.8,338.5 367.3,337.5 368,341 368.8,344.7 375.5,340.8 378.8,335.8 382.2,328 385,320.2 386.1,310.7 387.4,315.1 388.5,312.3 389.65,300M391.2,322 391.7,325.5M394.6,343 396.1,345.2 399,345.9 404.8,343.7 409.2,341.5 413,338.3 419.6,332.6 424.5,326.9 426.5,321 427.4,318.7 428.2,324 429,330.1 431.8,331.8 435.1,325.3 437.5,313.8 438.5,304.9 439.3,313 440,320.4 443.2,336.7 447.3,325.3 448.9,317.1M452.5,335 453.8,328.5 454.8,336.7 455.9,330" fill="none" stroke="#88654a" stroke-width="1.0" stroke-linejoin="round" stroke-linecap="round"/>
<path d="M457.9,348.9 462,349.7 477,349.8 477.8,349.2 478.6,349.8 494.5,349.7 495.69,338M496.54,350.3 505,350 511,349.6 517.2,348 520.3,345.7 521.6,341M522.04,342 523.7,346.5 526.2,344.9 527.6,346.5 528.8,335M530.3,351.1 536.5,350.3 539.5,349 540.1,342M540.9,344 541.6,350.8" fill="none" stroke="#ad9073" stroke-width="1.0" stroke-linejoin="round" stroke-linecap="round"/>
<text transform="translate(348.2,339.7) rotate(-90)" font-size="3.7" fill="#333" stroke="#333" stroke-width="0.08">C KLL</text>
<text transform="translate(368.3,335.3) rotate(-90)" font-size="3.7" fill="#333" stroke="#333" stroke-width="0.08">Cu 2s</text>
<text transform="translate(387,306.8) rotate(-90)" font-size="3.7" fill="#333" stroke="#333" stroke-width="0.08">O KLL</text>
<text transform="translate(391.2,266) rotate(-90)" font-size="3.7" fill="#333" stroke="#333" stroke-width="0.08">Cu 2p</text>
<text transform="translate(394.5,221.7) rotate(-90)" font-size="3.7" fill="#333" stroke="#333" stroke-width="0.08">Cu 2p</text>
<text transform="translate(428.6,317) rotate(-90)" font-size="3.7" fill="#333" stroke="#333" stroke-width="0.08">Cu LMM a</text>
<text transform="translate(439.7,304) rotate(-90)" font-size="3.7" fill="#333" stroke="#333" stroke-width="0.08">Cu LMM b</text>
<text transform="translate(451.8,269) rotate(-90)" font-size="3.7" fill="#333" stroke="#333" stroke-width="0.08">Cu LMM c</text>
<text transform="translate(458,302.7) rotate(-90)" font-size="3.7" fill="#333" stroke="#333" stroke-width="0.08">O 1s</text>
<text transform="translate(479,346.5) rotate(-90)" font-size="3.7" fill="#333" stroke="#333" stroke-width="0.08">N 1s</text>
<text transform="translate(497.2,317) rotate(-90)" font-size="3.7" fill="#333" stroke="#333" stroke-width="0.08">C 1s</text>
<text transform="translate(499.8,345) rotate(-90)" font-size="3.7" fill="#333" stroke="#333" stroke-width="0.08">Cl 2s</text>
<text transform="translate(506.8,345.7) rotate(-90)" font-size="3.7" fill="#333" stroke="#333" stroke-width="0.08">S 2s</text>
<text transform="translate(510.7,345.7) rotate(-90)" font-size="3.7" fill="#333" stroke="#333" stroke-width="0.08">Cl 2p</text>
<text transform="translate(516.4,344.2) rotate(-90)" font-size="3.7" fill="#333" stroke="#333" stroke-width="0.08">S 2p</text>
<text transform="translate(522.8,335.3) rotate(-90)" font-size="3.7" fill="#333" stroke="#333" stroke-width="0.08">Cu 3s</text>
<text transform="translate(530.3,321) rotate(-90)" font-size="3.7" fill="#333" stroke="#333" stroke-width="0.08">Cu 3p</text>
<text transform="translate(538.5,345) rotate(-90)" font-size="3.7" fill="#333" stroke="#333" stroke-width="0.08">O 2s</text>
<text transform="translate(541.7,336) rotate(-90)" font-size="3.7" fill="#333" stroke="#333" stroke-width="0.08">Cu 3d</text>
<rect x="400.6" y="198.3" width="73.2" height="10" fill="#fff" stroke="#3a3a3a" stroke-width="0.9"/>
<text x="437.2" y="204.9" font-size="5.75" text-anchor="middle" fill="#1a1a1a" stroke="#1a1a1a" stroke-width="0.08">12 min sample (Wide)</text>
<text transform="translate(431.8,382) scale(0.9,1)" font-family='"Liberation Serif", serif' font-size="13" font-weight="bold" text-anchor="middle" fill="#111">(d)</text>
<path d="M18.8,396.6H228.3V545.4H18.8Z" fill="none" stroke="#555" stroke-width="0.9"/>
<text x="17.1" y="545.4" font-size="3.5" font-weight="bold" text-anchor="end" fill="#111" stroke="#111" stroke-width="0.12">0</text>
<text x="17.1" y="529.84" font-size="3.5" font-weight="bold" text-anchor="end" fill="#111" stroke="#111" stroke-width="0.12">2</text>
<text x="17.1" y="514.28" font-size="3.5" font-weight="bold" text-anchor="end" fill="#111" stroke="#111" stroke-width="0.12">4</text>
<text x="17.1" y="498.72" font-size="3.5" font-weight="bold" text-anchor="end" fill="#111" stroke="#111" stroke-width="0.12">6</text>
<text x="17.1" y="483.16" font-size="3.5" font-weight="bold" text-anchor="end" fill="#111" stroke="#111" stroke-width="0.12">8</text>
<text x="17.1" y="467.6" font-size="3.5" font-weight="bold" text-anchor="end" fill="#111" stroke="#111" stroke-width="0.12">10</text>
<text x="17.1" y="452.04" font-size="3.5" font-weight="bold" text-anchor="end" fill="#111" stroke="#111" stroke-width="0.12">12</text>
<text x="17.1" y="436.48" font-size="3.5" font-weight="bold" text-anchor="end" fill="#111" stroke="#111" stroke-width="0.12">14</text>
<text x="17.1" y="420.92" font-size="3.5" font-weight="bold" text-anchor="end" fill="#111" stroke="#111" stroke-width="0.12">16</text>
<text x="17.1" y="405.36" font-size="3.5" font-weight="bold" text-anchor="end" fill="#111" stroke="#111" stroke-width="0.12">18</text>
<text x="36.3" y="551.7" font-size="3.5" font-weight="bold" text-anchor="middle" fill="#111" stroke="#111" stroke-width="0.12">1200</text>
<text x="83.9" y="551.7" font-size="3.5" font-weight="bold" text-anchor="middle" fill="#111" stroke="#111" stroke-width="0.12">900</text>
<text x="131.5" y="551.7" font-size="3.5" font-weight="bold" text-anchor="middle" fill="#111" stroke="#111" stroke-width="0.12">600</text>
<text x="179.1" y="551.7" font-size="3.5" font-weight="bold" text-anchor="middle" fill="#111" stroke="#111" stroke-width="0.12">300</text>
<text x="226.7" y="551.7" font-size="3.5" font-weight="bold" text-anchor="middle" fill="#111" stroke="#111" stroke-width="0.12">0</text>
<path d="M19.2,544.2h-2.1M19.2,528.64h-2.1M19.2,513.08h-2.1M19.2,497.52h-2.1M19.2,481.96h-2.1M19.2,466.4h-2.1M19.2,450.84h-2.1M19.2,435.28h-2.1M19.2,419.72h-2.1M19.2,404.16h-2.1M19.3,536.42h-1.5M19.3,520.86h-1.5M19.3,505.3h-1.5M19.3,489.74h-1.5M19.3,474.18h-1.5M19.3,458.62h-1.5M19.3,443.06h-1.5M19.3,427.5h-1.5M19.3,411.94h-1.5M36.3,545.4v2.9M83.9,545.4v2.9M131.5,545.4v2.9M179.1,545.4v2.9M226.7,545.4v2.9M20.43,545.4v1.0M52.17,545.4v1.0M68.03,545.4v1.0M99.77,545.4v1.0M115.63,545.4v1.0M147.37,545.4v1.0M163.23,545.4v1.0M194.97,545.4v1.0M210.83,545.4v1.0" stroke="#3a3a3a" stroke-width="0.8" fill="none"/>
<text transform="translate(8.3,465.7) rotate(-90)" font-size="4.5" font-weight="bold" text-anchor="middle" fill="#111">CPS x 10<tspan font-size="3.0" dy="-1.8">-4</tspan></text>
<text x="123.4" y="556.5" font-size="3.8" font-weight="bold" text-anchor="middle" fill="#111" stroke="#111" stroke-width="0.1">Binding Energy (eV)</text>
<polygon points="18.8,545.4 19.5,544.9 24,544.9 27.6,543.1 30.6,538.9 32.4,535.3 33.4,538 34.2,540.1 36,543.1 42,541.3 46.8,538.9 51.1,535.9 52.6,532.3 53.3,535.5 54.1,537.7 56.5,538.3 61.3,534.7 64.3,529.3 67.3,522.1 69.7,514.9 71.5,507.6 72.1,500.5 73.3,505.8 74.5,503.4 75.2,490 75.4,464.5 75.6,490 76.5,508 77,512.6 77.7,500 78.45,460 78.7,415.6 78.9,460 79,525 79.1,538.1 81.8,539.5 86.6,538.8 86.9,539 93.7,535.9 100.6,530.8 105.8,524.7 110.1,517.9 111.5,512 112.3,509.3 113.2,514 114.4,520.4 116.9,523 121.2,515.3 123,502 123.8,496.4 124.5,505 125.5,517 129,527.3 131.5,518.7 134.1,511.9 135,495 136.12,470 136.5,460 136.83,480 137.6,510.1 138.8,520.4 140,524.9 141,517 142.04,500 142.4,486.5 142.7,515 143.3,541.7 143.3,545.4" fill="#fef7f8" stroke="none"/>
<path d="M74.5,503.4 75.2,490 75.4,464.5 75.6,490 76.5,508M77,512.6 77.7,500 78.45,460 78.7,415.6 78.9,460 79,525 79.1,538.1M123.8,496.4 124.5,505M134.1,511.9 135,495 136.12,470 136.5,460 136.83,480 137.6,510.1M141,517 142.04,500 142.4,486.5 142.7,515 143.3,541.7M180.95,542.2 181.2,522 181.4,503 181.65,522 181.9,542M206.8,538.4 207.1,532 207.3,526.9 207.5,532 207.7,537.8M213.98,530 214.22,520 214.4,511.9 214.64,525 214.94,542.6M225.5,542.6 226.1,535M226.7,529.3 227.2,537 227.7,544" fill="none" stroke="#b08a78" stroke-width="0.8" stroke-linejoin="round" stroke-linecap="round"/>
<path d="M19.5,544.9 24,544.9 27.6,543.1 30.6,538.9 32.4,535.3 33.4,538 34.2,540.1 36,543.1 42,541.3 46.8,538.9 51.1,535.9 52.6,532.3 53.3,535.5 54.1,537.7 56.5,538.3 61.3,534.7 64.3,529.3 67.3,522.1 69.7,514.9 71.5,507.6 72.1,500.5 73.3,505.8 74.5,503.4M76.5,508 77,512.6M79.1,538.1 81.8,539.5 86.6,538.8 86.9,539 93.7,535.9 100.6,530.8 105.8,524.7 110.1,517.9 111.5,512 112.3,509.3 113.2,514 114.4,520.4 116.9,523 121.2,515.3 123,502 123.8,496.4M124.5,505 125.5,517 129,527.3 131.5,518.7 134.1,511.9M137.6,510.1 138.8,520.4 140,524.9 141,517" fill="none" stroke="#88654a" stroke-width="1.0" stroke-linejoin="round" stroke-linecap="round"/>
<path d="M143.3,541.7 145,542.3 162,542.3 163,541.6 164,542.3 180.95,542.2M181.9,542 190,541.5 196,541 203.9,540.2 206.8,538.4M207.7,537.8 210.5,536 212.9,536.6 213.98,530M214.94,542.6 225.5,542.6M226.1,535 226.7,529.3" fill="none" stroke="#ad9073" stroke-width="1.0" stroke-linejoin="round" stroke-linecap="round"/>
<text transform="translate(33.6,534) rotate(-90)" font-size="3.7" fill="#333" stroke="#333" stroke-width="0.08">C KLL</text>
<text transform="translate(53.8,529.9) rotate(-90)" font-size="3.7" fill="#333" stroke="#333" stroke-width="0.08">Cu 2s</text>
<text transform="translate(73.1,499.2) rotate(-90)" font-size="3.7" fill="#333" stroke="#333" stroke-width="0.08">O KLL</text>
<text transform="translate(76.6,462.4) rotate(-90)" font-size="3.7" fill="#333" stroke="#333" stroke-width="0.08">Cu 2p</text>
<text transform="translate(79.9,415) rotate(-90)" font-size="3.7" fill="#333" stroke="#333" stroke-width="0.08">Cu 2p</text>
<text transform="translate(113.5,506.7) rotate(-90)" font-size="3.7" fill="#333" stroke="#333" stroke-width="0.08">Cu LMM a</text>
<text transform="translate(125,493.8) rotate(-90)" font-size="3.7" fill="#333" stroke="#333" stroke-width="0.08">Cu LMM b</text>
<text transform="translate(137.8,458) rotate(-90)" font-size="3.7" fill="#333" stroke="#333" stroke-width="0.08">Cu LMM c</text>
<text transform="translate(143.6,485.5) rotate(-90)" font-size="3.7" fill="#333" stroke="#333" stroke-width="0.08">O 1s</text>
<text transform="translate(164.2,539.7) rotate(-90)" font-size="3.7" fill="#333" stroke="#333" stroke-width="0.08">N 1s</text>
<text transform="translate(182.6,502.3) rotate(-90)" font-size="3.7" fill="#333" stroke="#333" stroke-width="0.08">C 1s</text>
<text transform="translate(185.2,539) rotate(-90)" font-size="3.7" fill="#333" stroke="#333" stroke-width="0.08">Cl 2s</text>
<text transform="translate(191.2,539.6) rotate(-90)" font-size="3.7" fill="#333" stroke="#333" stroke-width="0.08">S 2s</text>
<text transform="translate(196.1,538.4) rotate(-90)" font-size="3.7" fill="#333" stroke="#333" stroke-width="0.08">Cl 2p</text>
<text transform="translate(201.5,536.6) rotate(-90)" font-size="3.7" fill="#333" stroke="#333" stroke-width="0.08">S 2p</text>
<text transform="translate(208.5,524.5) rotate(-90)" font-size="3.7" fill="#333" stroke="#333" stroke-width="0.08">Cu 3s</text>
<text transform="translate(215.6,510) rotate(-90)" font-size="3.7" fill="#333" stroke="#333" stroke-width="0.08">Cu 3p</text>
<text transform="translate(224.3,539) rotate(-90)" font-size="3.7" fill="#333" stroke="#333" stroke-width="0.08">O 2s</text>
<text transform="translate(227.7,527.5) rotate(-90)" font-size="3.7" fill="#333" stroke="#333" stroke-width="0.08">Cu 3d</text>
<rect x="86.4" y="391.6" width="73.1" height="10" fill="#fff" stroke="#3a3a3a" stroke-width="0.9"/>
<text x="122.95" y="398.2" font-size="5.75" text-anchor="middle" fill="#1a1a1a" stroke="#1a1a1a" stroke-width="0.08">15 min sample (Wide)</text>
<text transform="translate(117.7,574.7) scale(0.9,1)" font-family='"Liberation Serif", serif' font-size="13" font-weight="bold" text-anchor="middle" fill="#111">(e)</text>
</svg>
</body></html>
